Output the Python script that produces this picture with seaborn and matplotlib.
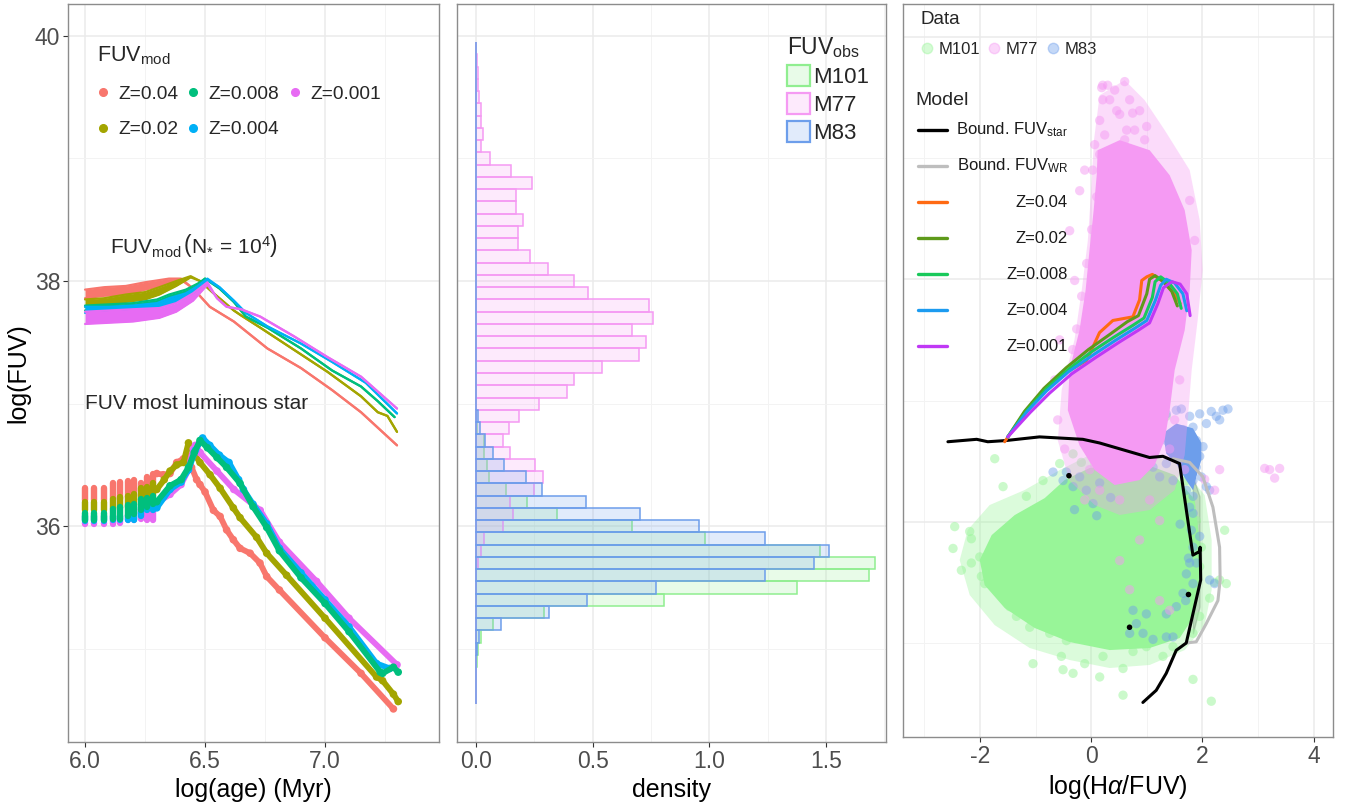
import numpy as np
import pandas as pd
import matplotlib
matplotlib.use("Agg")
import matplotlib.pyplot as plt
from matplotlib.colors import to_rgba
from matplotlib.lines import Line2D
from matplotlib.patches import Patch
from matplotlib.ticker import MultipleLocator
import seaborn as sns

sns.set_theme(style="white")
plt.rcParams["font.family"] = ["Liberation Sans", "DejaVu Sans"]
plt.rcParams["mathtext.fontset"] = "custom"
plt.rcParams["mathtext.rm"] = "Liberation Sans"
plt.rcParams["mathtext.it"] = "Liberation Sans:italic"
plt.rcParams["mathtext.bf"] = "Liberation Sans:bold"
plt.rcParams["axes.unicode_minus"] = False

# ---------------------------------------------------------------- metallicities
z_labels = ["Z=0.04", "Z=0.02", "Z=0.008", "Z=0.004", "Z=0.001"]
z_hues = ["#F8766D", "#A3A500", "#00BF7D", "#00B0F6", "#E76BF3"]

# ---- cluster FUV, N* = 1e4 : lower / upper envelope of the stochastic band
mod_age_004 = [6.0, 6.08, 6.17, 6.25, 6.35, 6.40, 6.45, 6.52, 6.62, 6.76, 6.90, 7.03, 7.15, 7.30]
mod_hi_004 = [37.93, 37.95, 37.96, 37.99, 38.02, 38.02, 37.94, 37.79, 37.67, 37.45, 37.29, 37.11, 36.93, 36.66]
mod_lo_004 = [37.86, 37.88, 37.89, 37.93, 37.98, 38.01, 37.94, 37.79, 37.67, 37.45, 37.29, 37.11, 36.93, 36.66]

mod_age_002 = [6.0, 6.08, 6.17, 6.25, 6.31, 6.38, 6.44, 6.48, 6.53, 6.62, 6.65, 6.73, 6.87, 7.01, 7.15, 7.22, 7.26, 7.30]
mod_hi_002 = [37.85, 37.86, 37.89, 37.91, 37.95, 38.00, 38.04, 38.00, 37.91, 37.76, 37.72, 37.62, 37.44, 37.26, 37.06, 36.93, 36.90, 36.77]
mod_lo_002 = [37.79, 37.80, 37.83, 37.85, 37.89, 37.96, 38.03, 38.00, 37.91, 37.76, 37.72, 37.62, 37.44, 37.26, 37.06, 36.93, 36.90, 36.77]

mod_age_0008 = [6.0, 6.1, 6.2, 6.3, 6.35, 6.42, 6.47, 6.50, 6.56, 6.62, 6.67, 6.76, 6.90, 7.03, 7.15, 7.22, 7.29]
mod_hi_0008 = [37.80, 37.81, 37.82, 37.85, 37.89, 37.93, 37.98, 38.02, 37.94, 37.83, 37.71, 37.62, 37.45, 37.27, 37.14, 37.02, 36.89]
mod_lo_0008 = [37.76, 37.77, 37.78, 37.81, 37.85, 37.90, 37.96, 38.02, 37.94, 37.83, 37.71, 37.62, 37.45, 37.27, 37.14, 37.02, 36.89]

mod_age_0004 = [6.0, 6.1, 6.2, 6.3, 6.35, 6.42, 6.47, 6.51, 6.56, 6.62, 6.67, 6.76, 6.90, 7.03, 7.17, 7.30]
mod_hi_0004 = [37.79, 37.79, 37.80, 37.82, 37.86, 37.90, 37.96, 38.02, 37.95, 37.84, 37.74, 37.63, 37.49, 37.34, 37.17, 36.92]
mod_lo_0004 = [37.74, 37.74, 37.75, 37.78, 37.81, 37.86, 37.92, 38.01, 37.95, 37.84, 37.74, 37.63, 37.49, 37.34, 37.17, 36.92]

mod_age_0001 = [6.0, 6.1, 6.2, 6.31, 6.38, 6.45, 6.51, 6.55, 6.59, 6.65, 6.73, 6.87, 7.01, 7.15, 7.30]
mod_hi_0001 = [37.75, 37.76, 37.77, 37.78, 37.82, 37.90, 37.99, 37.86, 37.79, 37.77, 37.71, 37.55, 37.38, 37.22, 36.96]
mod_lo_0001 = [37.65, 37.66, 37.67, 37.70, 37.75, 37.84, 37.97, 37.86, 37.79, 37.77, 37.71, 37.55, 37.38, 37.22, 36.96]

# ---- FUV of the most luminous star: early ages give a spread at each age step
star_col_age = [6.0, 6.039, 6.079, 6.115, 6.147, 6.178, 6.205, 6.233, 6.259, 6.282]
star_col_top_004 = [36.31, 36.31, 36.31, 36.35, 36.36, 36.37, 36.38, 36.35, 36.40, 36.43]
star_col_bot_004 = [36.21, 36.21, 36.21, 36.22, 36.22, 36.24, 36.25, 36.29, 36.31, 36.35]
star_col_top_002 = [36.20, 36.20, 36.20, 36.22, 36.24, 36.25, 36.26, 36.31, 36.32, 36.35]
star_col_bot_002 = [36.13, 36.13, 36.13, 36.14, 36.15, 36.16, 36.17, 36.21, 36.21, 36.25]
star_col_top_0008 = [36.11, 36.11, 36.11, 36.14, 36.16, 36.17, 36.18, 36.22, 36.23, 36.25]
star_col_bot_0008 = [36.05, 36.05, 36.05, 36.06, 36.06, 36.08, 36.10, 36.13, 36.16, 36.18]
star_col_top_0004 = [36.08, 36.08, 36.08, 36.08, 36.08, 36.09, 36.12, 36.16, 36.19, 36.21]
star_col_bot_0004 = [36.04, 36.04, 36.04, 36.05, 36.05, 36.05, 36.05, 36.08, 36.13, 36.13]
star_col_top_0001 = [36.03, 36.03, 36.03, 36.05, 36.06, 36.08, 36.08, 36.14, 36.16, 36.17]
star_col_bot_0001 = [36.02, 36.02, 36.02, 36.02, 36.03, 36.05, 36.05, 36.06, 36.05, 36.05]

star_age_004 = [6.299, 6.326, 6.354, 6.382, 6.410, 6.431, 6.444, 6.465, 6.479, 6.500, 6.535, 6.563, 6.590, 6.618, 6.646, 6.688, 6.729, 6.757, 6.81, 7.0, 7.15, 7.285]
star_fuv_004 = [36.43, 36.42, 36.43, 36.52, 36.55, 36.57, 36.48, 36.38, 36.34, 36.28, 36.13, 36.08, 35.97, 35.89, 35.82, 35.78, 35.70, 35.59, 35.48, 35.09, 34.80, 34.51]
star_age_002 = [6.299, 6.33, 6.354, 6.382, 6.410, 6.431, 6.451, 6.479, 6.521, 6.563, 6.618, 6.646, 6.715, 6.757, 6.84, 7.0, 7.215, 7.24, 7.285, 7.305]
star_fuv_002 = [36.30, 36.38, 36.45, 36.50, 36.52, 36.68, 36.60, 36.52, 36.42, 36.31, 36.15, 36.07, 35.91, 35.78, 35.60, 35.25, 34.77, 34.74, 34.63, 34.57]
star_age_0008 = [6.299, 6.354, 6.40, 6.431, 6.455, 6.479, 6.51, 6.55, 6.59, 6.646, 6.70, 6.757, 6.81, 6.90, 7.0, 7.1, 7.23, 7.24, 7.285, 7.305]
star_fuv_0008 = [36.20, 36.33, 36.38, 36.48, 36.60, 36.70, 36.64, 36.56, 36.48, 36.35, 36.16, 35.99, 35.80, 35.58, 35.37, 35.14, 34.81, 34.80, 34.85, 34.81]
star_age_0004 = [6.299, 6.354, 6.40, 6.431, 6.46, 6.49, 6.52, 6.56, 6.60, 6.64, 6.66, 6.70, 6.757, 6.81, 6.90, 7.0, 7.1, 7.215, 7.27]
star_fuv_0004 = [36.15, 36.30, 36.36, 36.46, 36.62, 36.72, 36.66, 36.58, 36.52, 36.38, 36.30, 36.18, 36.02, 35.82, 35.62, 35.40, 35.18, 34.88, 34.84]
star_age_0001 = [6.299, 6.354, 6.40, 6.431, 6.451, 6.46, 6.48, 6.55, 6.62, 6.73, 6.81, 6.965, 7.1, 7.30]
star_fuv_0001 = [36.19, 36.26, 36.34, 36.46, 36.63, 36.66, 36.60, 36.45, 36.30, 36.13, 35.87, 35.55, 35.25, 34.87]

mod_age = [mod_age_004, mod_age_002, mod_age_0008, mod_age_0004, mod_age_0001]
mod_hi = [mod_hi_004, mod_hi_002, mod_hi_0008, mod_hi_0004, mod_hi_0001]
mod_lo = [mod_lo_004, mod_lo_002, mod_lo_0008, mod_lo_0004, mod_lo_0001]
col_top = [star_col_top_004, star_col_top_002, star_col_top_0008, star_col_top_0004, star_col_top_0001]
col_bot = [star_col_bot_004, star_col_bot_002, star_col_bot_0008, star_col_bot_0004, star_col_bot_0001]
star_age = [star_age_004, star_age_002, star_age_0008, star_age_0004, star_age_0001]
star_fuv = [star_fuv_004, star_fuv_002, star_fuv_0008, star_fuv_0004, star_fuv_0001]

# ------------------------------------------------- observed FUV distributions
# bins of 0.1 dex centred on 34.6 ... 39.9
fuv_bin_mid = [round(34.6 + 0.1 * k, 1) for k in range(54)]
dens_m101 = [0, 0, 0, 0.003, 0.009, 0.022, 0.073, 0.293, 0.806, 1.377, 1.684, 1.709, 1.476, 0.980, 0.670,
             0.347, 0.219, 0.131, 0.055, 0.048, 0.034, 0.034, 0.005] + [0] * 31
dens_m77 = [0, 0, 0, 0, 0, 0, 0, 0, 0, 0, 0, 0.007, 0.023, 0.034, 0.117,
            0.157, 0.146, 0.249, 0.288, 0.252, 0.146, 0.114, 0.143, 0.186, 0.27, 0.39, 0.42, 0.54, 0.70, 0.73,
            0.67, 0.76, 0.74, 0.48, 0.42, 0.31, 0.23, 0.18, 0.18, 0.20, 0.17, 0.17, 0.24, 0.15, 0.06,
            0.02, 0.03, 0.02, 0.02, 0.015, 0.01, 0.01, 0.005, 0.0]
dens_m83 = [0, 0, 0, 0, 0.003, 0.015, 0.106, 0.313, 0.478, 0.772, 1.238, 1.447, 1.512, 1.238, 0.956,
            0.701, 0.471, 0.284, 0.213, 0.121, 0.074, 0.041, 0.019, 0.01] + [0] * 30
galaxies = ["M101", "M77", "M83"]
gal_edge = ["#90EE90", "#F59AF3", "#6D9EEB"]

# ------------------------------------------------------ H-alpha vs FUV plane
# dense cores and their lower-density envelopes, plus isolated regions around them
m101_core_x = [-0.027, 0.872, 1.502, 1.862, 1.952, 1.952, 1.862, 1.592, 1.052, 0.333, -0.387, -1.016, -1.556, -1.916, -2.005, -1.790, -1.376, -0.836, -0.477]
m101_core_y = [36.443, 36.492, 36.385, 36.179, 35.849, 35.478, 35.231, 35.041, 34.959, 34.942, 35.008, 35.124, 35.289, 35.478, 35.684, 35.890, 36.055, 36.195, 36.344]
m101_env_x = [-0.027, 0.872, 1.592, 2.041, 2.167, 2.167, 2.041, 1.682, 1.052, 0.333, -0.387, -1.106, -1.736, -2.185, -2.365, -2.221, -1.826, -1.196, -0.567]
m101_env_y = [36.550, 36.591, 36.468, 36.220, 35.849, 35.437, 35.148, 34.942, 34.819, 34.794, 34.860, 34.959, 35.148, 35.396, 35.684, 35.932, 36.138, 36.262, 36.426]
m101_x = [-1.735, -1.585, -2.455, -2.185, -2.155, -2.485, -2.335, -2.155, -2.005, -1.915, -1.825, -1.645, -1.465,
          -1.345, -1.106, -1.046, -0.536, -0.326, -0.506, -0.117, 0.153, 0.213, 0.573, 0.573, 0.753, 0.993,
          1.292, 1.472, 1.832, 2.161, 2.131, 2.221, 2.401, 2.311, 2.431, 1.952, 1.832, -1.465, -1.345, -1.166,
          -0.866, -0.566, -0.326, -0.177, 0.003, 0.213, 0.453, 0.753, 0.993, 1.172, 1.352, 1.113, -1.645, -1.765,
          -1.975, -1.525, -1.286, -0.926, -0.746, -0.446, -0.087, 0.273, 0.453, 0.873, 1.113, 1.472, 1.652, 1.832,
          1.952, 1.982, 1.892, 1.772, 1.712]
m101_y = [36.52, 36.29, 35.96, 35.92, 35.86, 35.78, 35.60, 35.66, 35.71, 35.49, 35.57, 35.44, 35.30,
          35.22, 35.13, 34.83, 34.89, 34.75, 34.78, 34.83, 34.72, 34.89, 34.79, 34.57, 34.93, 34.97,
          34.89, 34.97, 34.70, 34.52, 35.37, 35.50, 35.93, 35.52, 35.49, 35.22, 35.08, 35.79, 36.01, 36.21,
          36.34, 36.48, 36.56, 36.49, 36.62, 36.76, 36.84, 36.89, 37.00, 37.06, 36.87, 36.70, 35.85, 35.74,
          35.55, 35.63, 35.52, 35.24, 35.08, 35.02, 35.08, 35.00, 35.11, 35.05, 35.13, 35.19, 35.27, 35.44,
          35.63, 35.79, 36.01, 36.18, 36.34]

m77_core_x = [0.117, 0.513, 1.052, 1.412, 1.682, 1.808, 1.772, 1.682, 1.502, 1.412, 1.322, 1.142, 0.872, 0.423, 0.063, -0.21, -0.42, -0.39, -0.21, -0.10, -0.03, 0.045, 0.10]
m77_core_y = [39.064, 39.147, 39.064, 38.858, 38.570, 38.240, 37.910, 37.580, 37.251, 36.921, 36.674, 36.468, 36.344, 36.303, 36.427, 36.63, 36.92, 37.25, 37.58, 37.91, 38.24, 38.57, 38.86]
m77_env_x = [0.153, 0.603, 0.962, 1.322, 1.772, 1.952, 2.005, 1.916, 1.808, 1.736, 1.682, 1.502, 1.052, 0.513, 0.063, -0.39, -0.60, -0.53, -0.30, -0.17, -0.06, 0.0, 0.05]
m77_env_y = [39.518, 39.642, 39.477, 39.230, 38.900, 38.488, 38.076, 37.663, 37.251, 36.839, 36.550, 36.262, 36.097, 36.056, 36.138, 36.34, 36.67, 37.09, 37.50, 37.91, 38.32, 38.735, 39.147]
m77_x = [0.207, 0.423, 0.603, 0.333, 0.692, 0.513, 0.153, 0.872, 0.243, 0.782, 0.063, 0.962, 0.603, 1.052,
         -0.117, -0.207, 1.772, -0.387, 1.862, -0.297, -0.567, -0.656, -0.602, -0.477, 1.592, 1.502, 1.412,
         1.682, 2.041, 2.311, 2.221, 3.121, 3.210, 3.390, 3.300, 1.052, 1.232, 0.872, 0.513, 0.692, 1.232,
         1.412, -0.027, 0.153, -0.117, 0.513,
         0.189, 0.297, 0.207, 0.459, 0.746, 0.638, 0.998, 0.153, 0.027, 0.099, 0.009, -0.081, -0.171, -0.261, -0.333]
m77_y = [39.60, 39.56, 39.63, 39.48, 39.48, 39.36, 39.31, 39.39, 39.19, 39.23, 39.11, 39.15, 39.15, 38.98,
         38.90, 38.73, 38.65, 38.40, 38.32, 37.99, 37.50, 37.17, 36.84, 36.60, 37.17, 36.84, 36.60,
         36.43, 36.35, 36.43, 36.26, 36.44, 36.43, 36.44, 36.36, 36.18, 36.01, 35.85, 35.68, 35.44, 35.35,
         35.27, 36.43, 36.26, 36.18, 36.18,
         39.58, 39.60, 39.48, 39.39, 39.37, 39.23, 39.26, 39.03, 38.90, 38.68, 38.41, 38.13, 37.86, 37.59, 37.42]

m83_core_x = [1.292, 1.532, 1.832, 1.982, 1.982, 1.892, 1.832, 1.712, 1.532, 1.352]
m83_core_y = [36.73, 36.81, 36.77, 36.65, 36.51, 36.37, 36.26, 36.34, 36.48, 36.56]
m83_x = [1.352, 1.532, 1.622, 1.772, 1.952, 2.161, 2.251, 2.371, 2.461, 2.311, 2.072, 1.832, 1.652, 1.472,
         1.352, 1.532, 1.712, 1.892, 2.012, 1.952, 1.772, 1.592, 1.712, 1.892, 1.982, 2.072, 2.131, 1.832,
         1.712, 1.832, 1.772, 1.832, 1.802, 1.832, 1.772, 1.712, 1.832, 1.652, 1.532, 1.352, 0.993, 0.813,
         0.933, 1.113, 1.352, 1.472, 0.753, 0.693, -0.686, -0.446, -0.326, -0.207, -0.506, -0.087, 0.153,
         0.033, 0.213, 0.393, 0.513, 0.753, 0.873, 1.113, 1.232, 1.352, 1.472, 2.131, 2.221, 1.952, 1.892,
         -0.30, 0.10, 0.35, 1.60, 1.75, 1.70]
m83_y = [36.89, 36.92, 36.93, 36.87, 36.89, 36.91, 36.87, 36.92, 36.93, 36.84, 36.81, 36.78, 36.76, 36.73,
         36.67, 36.62, 36.65, 36.67, 36.62, 36.54, 36.54, 36.51, 36.45, 36.45, 36.37, 36.29, 36.26, 36.34,
         36.26, 36.21, 36.12, 36.07, 35.93, 35.79, 35.66, 35.57, 35.49, 35.41, 35.30, 35.24, 35.24, 35.16,
         35.08, 35.03, 35.05, 35.05, 35.27, 35.08, 36.41, 36.41, 36.29, 36.37, 36.34, 36.26, 36.32,
         36.15, 36.45, 36.51, 36.48, 36.48, 36.43, 36.45, 36.37, 36.48, 36.34, 35.52, 35.49, 35.88, 35.66,
         36.10, 36.05, 36.20, 35.98, 35.70, 35.35]

bound_star_x = [-2.577, -2.06, -1.86, -1.53, -0.93, -0.15, 0.15, 1.05, 1.29, 1.59, 1.83, 1.95, 1.96, 1.97, 1.95, 1.83, 1.71, 1.53, 1.35, 1.17, 0.93]
bound_star_y = [36.66, 36.68, 36.66, 36.67, 36.70, 36.68, 36.65, 36.53, 36.54, 36.48, 36.37, 36.21, 35.79, 35.52, 35.30, 35.08, 35.00, 34.94, 34.75, 34.61, 34.51]
bound_wr_x = [1.47, 1.77, 2.01, 2.19, 2.31, 2.32, 2.28, 2.07, 1.89, 1.71]
bound_wr_y = [36.52, 36.49, 36.37, 36.12, 35.79, 35.52, 35.35, 35.16, 35.01, 35.00]
ref_pts_x = [-0.40, 1.75, 0.69]
ref_pts_y = [36.38, 35.40, 35.13]

ratio_z004 = [-1.556, -1.20, -0.84, -0.50, -0.08, 0.15, 0.39, 0.75, 0.87, 0.91, 1.00, 1.10, 1.30, 1.50, 1.60]
track_z004 = [36.66, 36.90, 37.09, 37.22, 37.33, 37.56, 37.66, 37.69, 37.83, 37.99, 38.02, 38.04, 37.98, 37.88, 37.80]
ratio_z002 = [-1.50, -1.20, -0.85, -0.45, -0.05, 0.35, 0.65, 0.85, 1.00, 1.05, 1.15, 1.30, 1.45, 1.55]
track_z002 = [36.70, 36.91, 37.10, 37.27, 37.42, 37.55, 37.65, 37.70, 37.88, 38.00, 38.03, 37.98, 37.90, 37.78]
ratio_z0008 = [-1.50, -1.15, -0.80, -0.40, 0.00, 0.40, 0.75, 0.95, 1.10, 1.15, 1.25, 1.40, 1.55, 1.62]
track_z0008 = [36.70, 36.92, 37.10, 37.26, 37.40, 37.52, 37.62, 37.68, 37.85, 37.98, 38.02, 37.97, 37.88, 37.76]
ratio_z0004 = [-1.50, -1.15, -0.80, -0.40, 0.05, 0.45, 0.80, 1.00, 1.15, 1.25, 1.35, 1.50, 1.65, 1.72]
track_z0004 = [36.70, 36.91, 37.08, 37.24, 37.38, 37.50, 37.60, 37.66, 37.82, 37.95, 38.00, 37.97, 37.88, 37.74]
ratio_z0001 = [-1.50, -1.10, -0.75, -0.35, 0.10, 0.50, 0.85, 1.05, 1.20, 1.30, 1.45, 1.60, 1.72, 1.78]
track_z0001 = [36.70, 36.90, 37.06, 37.22, 37.36, 37.48, 37.58, 37.64, 37.80, 37.93, 37.98, 37.96, 37.88, 37.70]
track_hues = ["#FF6A13", "#5E9A1A", "#19C95B", "#1C9BF0", "#C038F5"]
ratios = [ratio_z004, ratio_z002, ratio_z0008, ratio_z0004, ratio_z0001]
tracks = [track_z004, track_z002, track_z0008, track_z0004, track_z0001]

cloud_hues = {"M101": "#98F598", "M77": "#F59AF3", "M83": "#6D9EEB"}

# ------------------------------------------------------------------- layout
W, H = 1352, 802
fig = plt.figure(figsize=(W / 100, H / 100), dpi=100)


def px_axes(x0, y0, x1, y1):
    return fig.add_axes([x0 / W, 1 - y1 / H, (x1 - x0) / W, (y1 - y0) / H])


ax1 = px_axes(68, 4, 439, 742)
ax2 = px_axes(457, 4, 886, 742)
ax3 = px_axes(903, 4, 1333, 737)

TICK_C = "#4D4D4D"
TITLE_FS = 18
TICK_FS = 16.5


def style(ax, xmaj, xmin, ymaj, ymin, ylabels=True):
    ax.set_facecolor("white")
    ax.xaxis.set_major_locator(MultipleLocator(xmaj))
    ax.xaxis.set_minor_locator(MultipleLocator(xmin))
    ax.yaxis.set_major_locator(MultipleLocator(ymaj))
    ax.yaxis.set_minor_locator(MultipleLocator(ymin))
    ax.grid(which="major", color="#EBEBEB", lw=1.1, zorder=0)
    ax.grid(which="minor", color="#F3F3F3", lw=0.7, zorder=0)
    ax.set_axisbelow(True)
    for s in ax.spines.values():
        s.set_visible(True)
        s.set_color("#8C8C8C")
        s.set_linewidth(1.0)
    ax.tick_params(which="major", direction="out", length=3.5, width=0.8, color="#333333",
                   labelsize=TICK_FS, labelcolor=TICK_C, pad=2, bottom=True, left=ylabels,
                   labelleft=ylabels)
    ax.tick_params(which="minor", length=0)


# ------------------------------------------------------------- panel 1
for i in range(5):
    c = z_hues[i]
    ax1.fill_between(mod_age[i], mod_lo[i], mod_hi[i], color=c, lw=0, zorder=2)
    sns.lineplot(x=mod_age[i], y=mod_hi[i], color=c, lw=1.6, ax=ax1, zorder=2)
    sns.lineplot(x=mod_age[i], y=mod_lo[i], color=c, lw=1.6, ax=ax1, zorder=2)
for i in [0, 1, 4, 3, 2]:
    c = z_hues[i]
    ax1.vlines(star_col_age, col_bot[i], col_top[i], colors=c, lw=4.6, capstyle="round", zorder=3)
    sns.lineplot(x=star_age[i], y=star_fuv[i], sort=False, color=c, lw=4.2,
                 solid_capstyle="round", ax=ax1, zorder=3)
    sns.scatterplot(x=star_age[i], y=star_fuv[i], color=c, s=30, edgecolor="none",
                    ax=ax1, zorder=3, legend=False)

style(ax1, 0.5, 0.25, 2, 1)
ax1.set_xlim(5.929, 7.475)
ax1.set_ylim(34.24, 40.26)
ax1.set_xlabel("log(age) (Myr)", fontsize=TITLE_FS, color="black", labelpad=4)
ax1.set_ylabel("log(FUV)", fontsize=TITLE_FS, color="black", labelpad=3)

ax1.text(6.104, 38.29, r"FUV$_{\rm mod}\,\left(\mathrm{N}_{*}\,=\,10^{4}\right)$", fontsize=15,
         ha="left", va="center")
ax1.text(6.0, 37.0, "FUV most luminous star", fontsize=15, ha="left", va="center")

h1 = [Line2D([], [], ls="", marker="o", ms=5.5, color=c) for c in z_hues]
ax1.legend(h1, z_labels, title=r"FUV$_{\rm mod}$", loc="upper left",
           bbox_to_anchor=(0.078, 0.945), ncol=3, frameon=False, fontsize=13.8,
           title_fontsize=15.5, handlelength=0.6, handletextpad=0.5,
           columnspacing=0.5, labelspacing=0.95, alignment="left",
           borderaxespad=0, borderpad=0)

# ------------------------------------------------------------- panel 2
for name, dens, c in zip(galaxies, [dens_m101, dens_m77, dens_m83], gal_edge):
    hist_df = pd.DataFrame({"fuv": fuv_bin_mid, "density": dens})
    sns.histplot(data=hist_df, y="fuv", weights="density", binwidth=0.1,
                 binrange=(34.55, 39.95), stat="count", element="bars", fill=True,
                 color=c, alpha=0.2, edgecolor=c, linewidth=1.1, ax=ax2, zorder=2)
style(ax2, 0.5, 0.25, 2, 1, ylabels=False)
ax2.set_xlim(-0.081, 1.757)
ax2.set_ylim(34.24, 40.26)
ax2.set_xlabel("density", fontsize=TITLE_FS, color="black", labelpad=4)
ax2.set_ylabel("")
h2 = [Patch(facecolor=to_rgba(c, 0.2), edgecolor=c, lw=1.6) for c in gal_edge]
ax2.legend(h2, galaxies, title=r"FUV$_{\rm obs}$", loc="upper left",
           bbox_to_anchor=(0.769, 0.958), frameon=False, fontsize=16, title_fontsize=16.5,
           handlelength=1.05, handleheight=1.1, handletextpad=0.15, labelspacing=0.22,
           alignment="left", borderaxespad=0, borderpad=0)

# ------------------------------------------------------------- panel 3
ax3.fill(m101_env_x, m101_env_y, color=cloud_hues["M101"], alpha=0.35, lw=0, zorder=2)
ax3.fill(m101_core_x, m101_core_y, color=cloud_hues["M101"], lw=0, zorder=2)
sns.scatterplot(x=m101_x, y=m101_y, color=cloud_hues["M101"], alpha=0.5, s=45,
                edgecolor="none", ax=ax3, zorder=2, legend=False)
ax3.fill(m83_core_x, m83_core_y, color=cloud_hues["M83"], lw=0, zorder=2)
sns.scatterplot(x=m83_x, y=m83_y, color=cloud_hues["M83"], alpha=0.45, s=45,
                edgecolor="none", ax=ax3, zorder=2, legend=False)
ax3.fill(m77_env_x, m77_env_y, color=cloud_hues["M77"], alpha=0.35, lw=0, zorder=2)
ax3.fill(m77_core_x, m77_core_y, color=cloud_hues["M77"], lw=0, zorder=2)
sns.scatterplot(x=m77_x, y=m77_y, color=cloud_hues["M77"], alpha=0.5, s=45,
                edgecolor="none", ax=ax3, zorder=2, legend=False)

sns.lineplot(x=bound_wr_x, y=bound_wr_y, sort=False, color="#BEBEBE", lw=2.2, ax=ax3, zorder=3)
sns.lineplot(x=bound_star_x, y=bound_star_y, sort=False, color="black", lw=2.2, ax=ax3, zorder=3)
for r, t, c in zip(ratios, tracks, track_hues):
    sns.lineplot(x=r, y=t, sort=False, color=c, lw=2.2, ax=ax3, zorder=4)
sns.scatterplot(x=ref_pts_x, y=ref_pts_y, color="black", s=16, edgecolor="none",
                ax=ax3, zorder=5, legend=False)

style(ax3, 2, 1, 2, 1, ylabels=False)
ax3.tick_params(axis="y", which="both", length=0)
ax3.set_xlim(-3.385, 4.35)
ax3.set_ylim(34.225, 40.27)
ax3.set_xlabel(r"log(H$\alpha$/FUV)", fontsize=TITLE_FS, color="black", labelpad=4)
ax3.set_ylabel("")

h3 = [Line2D([], [], ls="", marker="o", ms=7.5, color=cloud_hues[g], alpha=0.4) for g in galaxies]
ax3.legend(h3, galaxies, title="Data", loc="upper left", bbox_to_anchor=(0.04, 0.99),
           ncol=3, frameon=False, fontsize=12, title_fontsize=13.5, handlelength=0.8,
           handletextpad=0.3, columnspacing=0.45, labelspacing=0.8, alignment="left",
           borderaxespad=0, borderpad=0)

# model key drawn in axes fraction
model_labels = [r"Bound. FUV$_{\rm star}$", r"Bound. FUV$_{\rm WR}$"] + z_labels
model_hues = ["black", "#BEBEBE"] + track_hues
ax3.text(0.028, 0.869, "Model", transform=ax3.transAxes, fontsize=14, ha="left", va="center")
for k, (lab, c) in enumerate(zip(model_labels, model_hues)):
    yk = 0.828 - k * 0.0491
    ax3.add_line(Line2D([0.035, 0.102], [yk, yk], transform=ax3.transAxes, color=c, lw=2.4,
                        clip_on=False, zorder=6))
    ax3.text(0.384, yk, lab, transform=ax3.transAxes, fontsize=12, ha="right", va="center",
             color="#1A1A1A", zorder=6)

fig.savefig("out.png", dpi=100)
